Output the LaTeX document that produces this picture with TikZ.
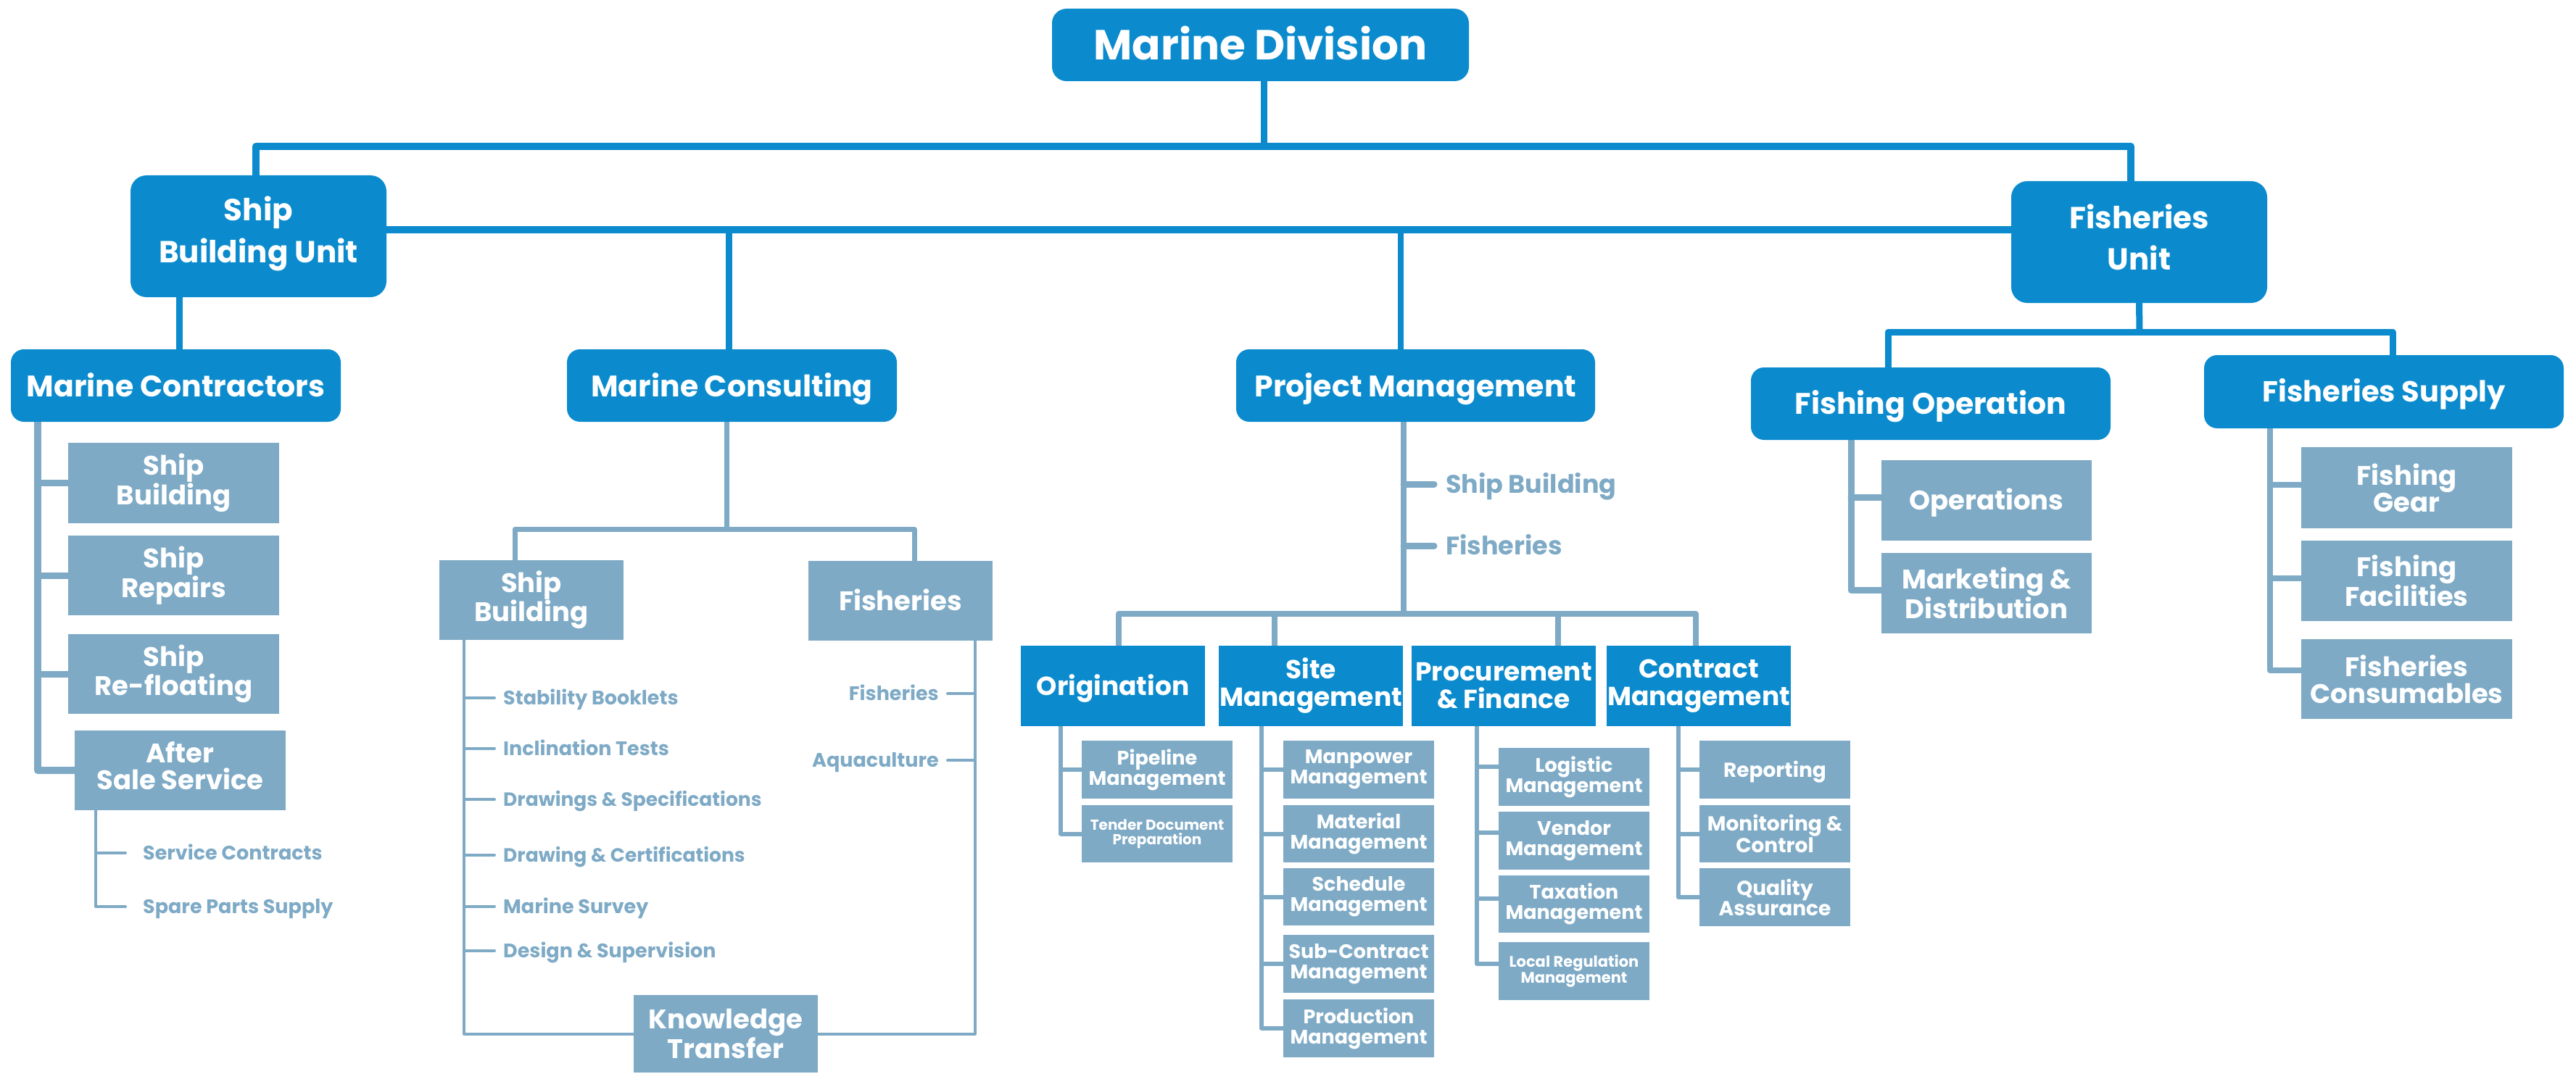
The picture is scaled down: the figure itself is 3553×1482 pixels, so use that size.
\documentclass[tikz,border=0pt]{standalone}
\usepackage{fontspec}
\setmainfont{Poppins}
\usetikzlibrary{backgrounds}
\definecolor{dk}{HTML}{0B8BCD}
\definecolor{lt}{HTML}{7EAAC6}
\newcommand{\fs}[2]{\fontsize{#1pt}{#2pt}\selectfont\bfseries}
\newcommand{\BX}[7]{\node[#6, minimum width={#4-#2}, minimum height={#5-#3}] (#1) at ({(#2+#4)/2},{(#3+#5)/2}) {#7};}
\newcommand{\dn}[1]{\rule[-#1pt]{0pt}{0pt}}
\tikzset{
 dbox/.style={fill=dk,text=white,rounded corners=18pt,inner sep=0pt,align=center},
 dsq/.style={fill=dk,text=white,inner sep=0pt,align=center},
 gbox/.style={fill=lt,text=white,inner sep=0pt,align=center},
 capc/.style={text height=#1,text depth=0pt},
 ltxt/.style={text=lt,inner sep=0pt,text depth=0pt},
 dline/.style={draw=dk,line width=9pt,line cap=round,line join=round},
 lline/.style={draw=lt,line cap=round,line join=round},
}
\begin{document}
\begin{tikzpicture}[x=1pt,y=-1pt]
\useasboundingbox (0,0) rectangle (3553,1482);
% top levels
\BX{md}{1451}{12}{2026}{112}{dbox,rounded corners=20pt,capc=41pt,font=\fs{58}{60}}{Marine Division}
\BX{sbu}{180}{242}{533}{410}{dbox,rounded corners=22pt,font=\fs{42}{58}}{Ship\\Building Unit\dn{18}}
\BX{fu}{2774}{250}{3127}{418}{dbox,rounded corners=22pt,font=\fs{42}{57}}{Fisheries\\Unit\dn{14}}
\BX{mc}{15}{482}{470}{582}{dbox,capc=30pt,font=\fs{41}{45}}{Marine Contractors}
\BX{mcons}{782}{482}{1237}{582}{dbox,capc=30pt,font=\fs{41}{45}}{Marine Consulting}
\BX{pm}{1705}{482}{2200}{582}{dbox,capc=30pt,font=\fs{41}{45}}{Project Management}
\BX{fo}{2415}{507}{2911}{607}{dbox,capc=29pt,font=\fs{41}{45}}{Fishing Operation}
\BX{fs}{3040}{490}{3536}{591}{dbox,capc=28pt,font=\fs{40}{45}}{Fisheries Supply}
% level 4 (project management)
\BX{orig}{1408}{891}{1662}{1002}{dsq,capc=25pt,font=\fs{36}{38}}{Origination}
\BX{site}{1681}{891}{1935}{1002}{dsq,font=\fs{36}{38}}{Site\\Management}
\BX{proc}{1947}{891}{2201}{1002}{dsq,font=\fs{36}{38}}{Procurement\\\& Finance}
\BX{cman}{2216}{891}{2470}{1002}{dsq,font=\fs{36}{38}}{Contract\\Management}
% marine contractors children
\BX{mc1}{94}{611}{385}{722}{gbox,font=\fs{37}{39}}{Ship\\Building}
\BX{mc2}{94}{739}{385}{849}{gbox,font=\fs{37}{39}}{Ship\\Repairs}
\BX{mc3}{94}{875}{385}{985}{gbox,font=\fs{37}{39}}{Ship\\Re-floating}
\BX{mc4}{103}{1008}{394}{1118}{gbox,font=\fs{37}{37}}{After\\Sale Service\dn{14}}
\node[ltxt,anchor=west,font=\fs{27}{27},text height=19pt] (sc1) at (197,1177) {Service Contracts};
\node[ltxt,anchor=west,font=\fs{27}{27},text height=19pt] (sc2) at (197,1251) {Spare Parts Supply};
% marine consulting children
\BX{cs1}{606}{773}{860}{883}{gbox,font=\fs{37}{36}}{Ship\\Building}
\BX{cs2}{1115}{774}{1369}{884}{gbox,capc=26pt,font=\fs{37}{36}}{Fisheries}
\BX{kt}{874}{1373}{1128}{1480}{gbox,font=\fs{37}{36}}{Knowledge\\Transfer}
\node[ltxt,anchor=west,font=\fs{27}{27},text height=19pt] (t1) at (694,963) {Stability Booklets};
\node[ltxt,anchor=west,font=\fs{27}{27},text height=19pt] (t2) at (694,1033) {Inclination Tests};
\node[ltxt,anchor=west,font=\fs{26.5}{27},text height=19pt] (t3) at (694,1103) {Drawings \& Specifications};
\node[ltxt,anchor=west,font=\fs{26.5}{27},text height=19pt] (t4) at (694,1180) {Drawing \& Certifications};
\node[ltxt,anchor=west,font=\fs{27}{27},text height=19pt] (t5) at (694,1251) {Marine Survey};
\node[ltxt,anchor=west,font=\fs{27}{27},text height=19pt] (t6) at (694,1312) {Design \& Supervision};
\node[ltxt,anchor=east,font=\fs{27}{27},text height=19pt] (r1) at (1295,957) {Fisheries};
\node[ltxt,anchor=east,font=\fs{27}{27},text height=19pt] (r2) at (1295,1049) {Aquaculture};
% project management texts
\node[ltxt,anchor=west,font=\fs{35}{35},text height=25pt] (pt1) at (1994,668) {Ship Building};
\node[ltxt,anchor=west,font=\fs{35}{35},text height=25pt] (pt2) at (1994,753) {Fisheries};
% origination children
\BX{p1}{1492}{1022}{1700}{1102}{gbox,font=\fs{27}{28}}{Pipeline\\Management}
\BX{p2}{1492}{1111}{1700}{1190}{gbox,font=\fs{20}{20}}{Tender Document\\Preparation}
% site children
\BX{s1}{1770}{1022}{1978}{1102}{gbox,font=\fs{27}{28}}{Manpower\\Management}
\BX{s2}{1770}{1111}{1978}{1190}{gbox,font=\fs{27}{28}}{Material\\Management}
\BX{s3}{1770}{1198}{1978}{1277}{gbox,font=\fs{27}{28}}{Schedule\\Management}
\BX{s4}{1770}{1290}{1978}{1370}{gbox,font=\fs{27}{28}}{Sub-Contract\\Management}
\BX{s5}{1770}{1379}{1978}{1459}{gbox,font=\fs{27}{28}}{Production\\Management}
% procurement children
\BX{f1}{2067}{1032}{2275}{1112}{gbox,font=\fs{27}{28}}{Logistic\\Management}
\BX{f2}{2067}{1120}{2275}{1200}{gbox,font=\fs{27}{28}}{Vendor\\Management}
\BX{f3}{2067}{1208}{2275}{1287}{gbox,font=\fs{27}{28}}{Taxation\\Management}
\BX{f4}{2067}{1300}{2275}{1380}{gbox,font=\fs{21}{22}}{Local Regulation\\Management}
% contract management children
\BX{c1}{2344}{1022}{2552}{1102}{gbox,capc=20pt,font=\fs{28}{28}}{Reporting}
\BX{c2}{2344}{1111}{2552}{1190}{gbox,font=\fs{28}{28}}{Monitoring \&\\Control}
\BX{c3}{2344}{1198}{2552}{1278}{gbox,font=\fs{28}{28}}{Quality\\Assurance}
% fishing operation children
\BX{o1}{2595}{635}{2885}{746}{gbox,capc=26pt,font=\fs{37}{37}}{Operations}
\BX{o2}{2595}{763}{2885}{874}{gbox,font=\fs{37}{37}}{Marketing \&\\Distribution}
% fisheries supply children
\BX{g1}{3174}{617}{3465}{729}{gbox,font=\fs{37}{37}}{Fishing\\Gear}
\BX{g2}{3174}{746}{3465}{857}{gbox,font=\fs{37}{37}}{Fishing\\Facilities}
\BX{g3}{3174}{882}{3465}{992}{gbox,font=\fs{37}{37}}{Fisheries\\Consumables}

\begin{scope}[on background layer]
% top bus
\coordinate (tb) at (1743,202);
\draw[dline,line width=10pt] ([xshift=-3.5pt]sbu.north) -- ([xshift=-3.5pt]sbu.north |- tb) -- ([xshift=-11.5pt]fu.north |- tb) -- ([xshift=-11.5pt]fu.north);
\draw[dline] ([xshift=4.5pt]md.south) -- (tb);
% second bus
\coordinate (b2) at (1000,317);
\draw[dline,line width=10pt] ([yshift=9pt]sbu.east) -- ([yshift=17pt]fu.west);
\draw[dline] ([xshift=-4.5pt]mcons.north) -- ([xshift=-4.5pt]mcons.north |- b2);
\draw[dline,line width=8pt] ([xshift=-20.5pt]pm.north) -- ([xshift=-20.5pt]pm.north |- b2);
\draw[dline] ([xshift=4.5pt]mc.north) -- ([xshift=4.5pt]mc.north |- sbu.south);
% fisheries unit
\coordinate (fb) at (2951,458);
\draw[dline] (fu.south) -- (fb);
\draw[dline] ([xshift=-59pt]fo.north) -- ([xshift=-59pt]fo.north |- fb) -- ([xshift=12pt]fs.north |- fb) -- ([xshift=12pt]fs.north);
% marine contractors
\coordinate (mcx) at (52,0);
\draw[lline,line width=10pt] (mc.south -| mcx) -- (mc4.west -| mcx) -- (mc4.west);
\foreach \n in {mc1,mc2,mc3} \draw[lline,line width=9pt] (\n.west -| mcx) -- (\n.west);
\coordinate (asx) at (132,0);
\draw[lline,line width=4pt] (mc4.south -| asx) -- (sc2.west -| asx) -- ([xshift=-24pt]sc2.west);
\draw[lline,line width=4pt] (sc1.west -| asx) -- ([xshift=-24pt]sc1.west);
% marine consulting
\coordinate (mcb) at (1002,730);
\draw[lline,line width=7pt] ([xshift=-7.5pt]mcons.south) -- (mcb);
\draw[lline,line width=7pt] ([xshift=-23pt]cs1.north) -- ([xshift=-23pt]cs1.north |- mcb) -- ([xshift=19pt]cs2.north |- mcb) -- ([xshift=19pt]cs2.north);
\coordinate (csl) at (640,0);
\coordinate (csr) at (1345,0);
\draw[lline,line width=4pt] (cs1.south -| csl) -- (kt.west -| csl) -- (kt.west);
\draw[lline,line width=4pt] (kt.east) -- (kt.east -| csr) -- (cs2.south -| csr);
\foreach \n in {t1,t2,t3,t4,t5,t6} \draw[lline,line width=4pt] (\n.west -| csl) -- ([xshift=-12pt]\n.west);
\foreach \n in {r1,r2} \draw[lline,line width=4pt] (\n.east -| csr) -- ([xshift=12pt]\n.east);
% project management
\coordinate (pmb) at (1936,847);
\draw[lline,line width=8pt] ([xshift=-16.5pt]pm.south) -- (pmb);
\foreach \n in {pt1,pt2} \draw[lline,line width=9pt] (\n.west -| pmb) -- ([xshift=-16pt]\n.west);
\draw[lline,line width=8pt] ([xshift=8pt]orig.north) -- ([xshift=8pt]orig.north |- pmb) -- ([xshift=-4pt]cman.north |- pmb) -- ([xshift=-4pt]cman.north);
\draw[lline,line width=8pt] ([xshift=-50pt]site.north) -- ([xshift=-50pt]site.north |- pmb);
\draw[lline,line width=8pt] ([xshift=75pt]proc.north) -- ([xshift=75pt]proc.north |- pmb);
% origination
\coordinate (ox) at (1463,0);
\draw[lline,line width=6pt] (orig.south -| ox) -- (p2.west -| ox) -- (p2.west);
\draw[lline,line width=6pt] (p1.west -| ox) -- (p1.west);
% site
\coordinate (sx) at (1740,0);
\draw[lline,line width=6pt] (site.south -| sx) -- (s5.west -| sx) -- (s5.west);
\foreach \n in {s1,s2,s3,s4} \draw[lline,line width=6pt] (\n.west -| sx) -- (\n.west);
% procurement
\coordinate (px) at (2037,0);
\draw[lline,line width=6pt] (proc.south -| px) -- ([yshift=10pt]f4.west -| px) -- ([yshift=10pt]f4.west);
\draw[lline,line width=6pt] ([yshift=14pt]f1.west -| px) -- ([yshift=14pt]f1.west);
\draw[lline,line width=6pt] ([yshift=11pt]f2.west -| px) -- ([yshift=11pt]f2.west);
\draw[lline,line width=6pt] ([yshift=8pt]f3.west -| px) -- ([yshift=8pt]f3.west);
% contract management
\coordinate (cx) at (2315,0);
\draw[lline,line width=6pt] (cman.south -| cx) -- (c3.west -| cx) -- (c3.west);
\foreach \n in {c1,c2} \draw[lline,line width=6pt] (\n.west -| cx) -- (\n.west);
% fishing operation
\coordinate (ofx) at (2553,0);
\draw[lline,line width=9pt] (fo.south -| ofx) -- ([yshift=4pt]o2.west -| ofx) -- ([yshift=4pt]o2.west);
\draw[lline,line width=9pt] ([yshift=4pt]o1.west -| ofx) -- ([yshift=4pt]o1.west);
% fisheries supply
\coordinate (gx) at (3131,0);
\draw[lline,line width=8pt] (fs.south -| gx) -- ([yshift=12pt]g3.west -| gx) -- ([yshift=12pt]g3.west);
\draw[lline,line width=8pt] ([yshift=4pt]g1.west -| gx) -- ([yshift=4pt]g1.west);
\draw[lline,line width=8pt] ([yshift=4pt]g2.west -| gx) -- ([yshift=4pt]g2.west);
\end{scope}
\end{tikzpicture}
\end{document}
